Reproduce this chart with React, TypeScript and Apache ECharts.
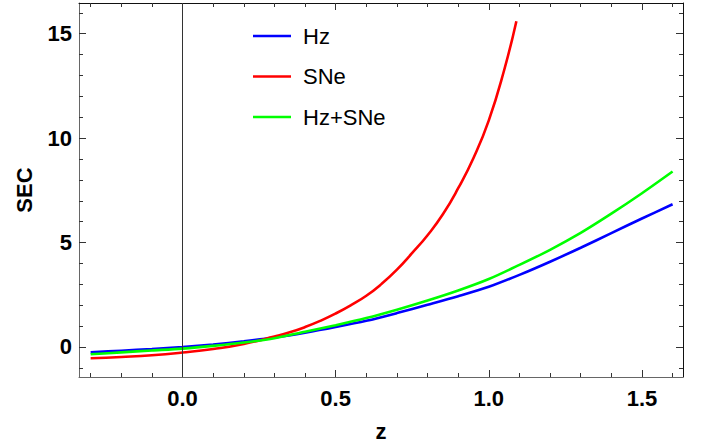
import React, { useEffect, useRef } from "react";
import * as echarts from "echarts";

const zValues = [-0.3, -0.2, -0.1, 0.0, 0.1, 0.2, 0.3, 0.4, 0.5, 0.6, 0.7, 0.8, 0.9, 1.0, 1.1, 1.2, 1.3, 1.4, 1.5, 1.6];
const hzValues = [-0.26, -0.18, -0.1, 0.0, 0.12, 0.27, 0.45, 0.68, 0.95, 1.25, 1.62, 2.02, 2.43, 2.88, 3.45, 4.08, 4.75, 5.45, 6.15, 6.83];
const hzSneValues = [-0.35, -0.26, -0.17, -0.08, 0.05, 0.21, 0.42, 0.73, 1.04, 1.38, 1.78, 2.22, 2.7, 3.25, 3.93, 4.65, 5.46, 6.38, 7.36, 8.4];
const zSne = [-0.3, -0.2, -0.1, 0.0, 0.1, 0.2, 0.3, 0.35, 0.4, 0.45, 0.5, 0.55, 0.6, 0.65, 0.7, 0.75, 0.8, 0.85, 0.9, 0.95, 1.0, 1.05, 1.09];
const sneValues = [-0.54, -0.48, -0.4, -0.27, -0.1, 0.14, 0.5, 0.7, 0.95, 1.25, 1.6, 2.0, 2.45, 3.02, 3.7, 4.5, 5.35, 6.35, 7.6, 9.05, 10.85, 13.25, 15.6];

const seriesNames = ["Hz", "SNe", "Hz+SNe"];
const seriesColors = ["#0000ff", "#ff0000", "#00ff00"];

const xMajorTicks = [0, 0.5, 1.0, 1.5];
const xMinorTicks = [-0.3, -0.2, -0.1, 0.1, 0.2, 0.3, 0.4, 0.6, 0.7, 0.8, 0.9, 1.1, 1.2, 1.3, 1.4, 1.6];
const yMajorTicks = [0, 5, 10, 15];
const yMinorTicks = [-1, 1, 2, 3, 4, 6, 7, 8, 9, 11, 12, 13, 14, 16];

const X_MIN = -0.338;
const X_MAX = 1.634;
const Y_MIN = -1.44;
const Y_MAX = 16.47;

const FONT = "'Liberation Sans', Arial, sans-serif";
const TICK_COLOR = "#333";

function pairs(xs: number[], ys: number[]) {
  return xs.map((x, i) => [x, ys[i]]);
}

function makeX(position: "bottom" | "top", major: boolean, labels: boolean, lineColor: string | null): any {
  const axis: any = {
    type: "value",
    position,
    min: X_MIN,
    max: X_MAX,
    splitLine: { show: false },
    axisLine: lineColor
      ? { show: true, onZero: false, lineStyle: { color: lineColor, width: 1 } }
      : { show: false, onZero: false },
    axisTick: {
      show: true,
      inside: true,
      length: major ? 7 : 4,
      customValues: major ? xMajorTicks : xMinorTicks,
      lineStyle: { color: TICK_COLOR, width: 1 },
    },
    axisLabel: { show: false },
  };
  if (labels) {
    axis.axisLabel = {
      show: true,
      customValues: xMajorTicks,
      formatter: (v: number) => v.toFixed(1),
      fontFamily: FONT,
      fontWeight: "bold",
      fontSize: 22,
      color: "#000",
      margin: 10,
    };
    axis.name = "z";
    axis.nameLocation = "middle";
    axis.nameGap = 43;
    axis.nameTextStyle = { fontFamily: FONT, fontWeight: "bold", fontSize: 22, color: "#000" };
  }
  return axis;
}

function makeY(position: "left" | "right", major: boolean, labels: boolean, lineColor: string | null): any {
  const axis: any = {
    type: "value",
    position,
    min: Y_MIN,
    max: Y_MAX,
    splitLine: { show: false },
    axisLine: lineColor
      ? { show: true, onZero: false, lineStyle: { color: lineColor, width: 1 } }
      : { show: false, onZero: false },
    axisTick: {
      show: true,
      inside: true,
      length: major ? 7 : 4,
      customValues: major ? yMajorTicks : yMinorTicks,
      lineStyle: { color: TICK_COLOR, width: 1 },
    },
    axisLabel: { show: false },
  };
  if (labels) {
    axis.axisLabel = {
      show: true,
      customValues: yMajorTicks,
      formatter: (v: number) => String(v),
      fontFamily: FONT,
      fontWeight: "bold",
      fontSize: 22,
      color: "#000",
      margin: 7,
    };
    axis.name = "SEC";
    axis.nameLocation = "middle";
    axis.nameGap = 44;
    axis.nameRotate = 90;
    axis.nameTextStyle = { fontFamily: FONT, fontWeight: "bold", fontSize: 22, color: "#000" };
  }
  return axis;
}

export default function App() {
  const ref = useRef<HTMLDivElement>(null);
  useEffect(() => {
    if (!ref.current) return;
    const chart = echarts.init(ref.current, null, { renderer: "svg" });
    const lineSeries = (name: string, color: string, data: number[][], smooth: number) => ({
      name,
      type: "line",
      xAxisIndex: 0,
      yAxisIndex: 0,
      data,
      smooth,
      symbol: "none",
      showSymbol: false,
      lineStyle: { color, width: 2.6 },
      itemStyle: { color },
      z: 3,
    });
    chart.setOption({
      animation: false,
      grid: { left: 79, right: 21, top: 3, bottom: 70 },
      legend: {
        orient: "vertical",
        left: 253,
        top: 25,
        itemWidth: 38,
        itemHeight: 22,
        itemGap: 18.5,
        padding: 0,
        icon: "path://M0,0L38,0L38,2.6L0,2.6Z",
        data: seriesNames,
        textStyle: { fontFamily: FONT, fontSize: 22, color: "#000", padding: [0, 0, 0, 7] },
      },
      xAxis: [
        makeX("bottom", true, true, "#666"),
        makeX("top", true, false, "#111"),
        makeX("bottom", false, false, null),
        makeX("top", false, false, null),
      ],
      yAxis: [
        makeY("left", true, true, "#666"),
        makeY("right", true, false, "#111"),
        makeY("left", false, false, null),
        makeY("right", false, false, null),
      ],
      series: [
        lineSeries(seriesNames[0], seriesColors[0], pairs(zValues, hzValues), 0.3),
        lineSeries(seriesNames[1], seriesColors[1], pairs(zSne, sneValues), 0.5),
        lineSeries(seriesNames[2], seriesColors[2], pairs(zValues, hzSneValues), 0.3),
        {
          type: "line",
          name: "zero",
          xAxisIndex: 0,
          yAxisIndex: 0,
          data: [],
          silent: true,
          markLine: {
            silent: true,
            symbol: "none",
            label: { show: false },
            lineStyle: { color: "#333", width: 1, type: "solid" },
            data: [{ xAxis: 0 }],
          },
        },
      ],
    });
    return () => chart.dispose();
  }, []);
  return (
    <div
      ref={ref}
      style={{ position: "fixed", left: 0, top: 0, width: 704, height: 447, background: "#fff" }}
    />
  );
}
